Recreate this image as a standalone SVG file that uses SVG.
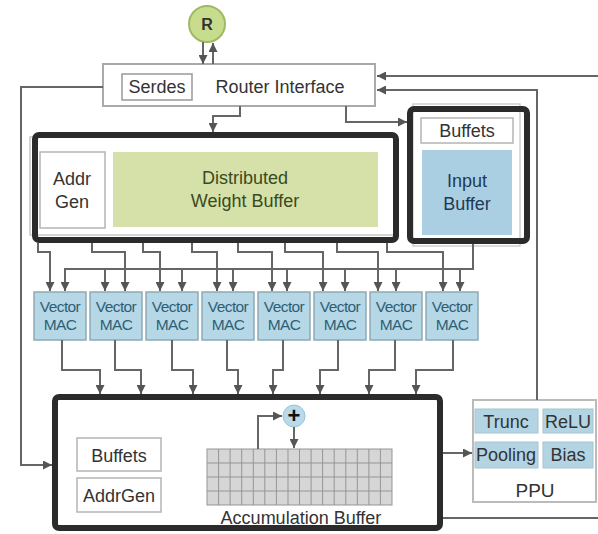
<svg xmlns="http://www.w3.org/2000/svg" width="598" height="534" viewBox="0 0 598 534">
  <style>
    text { font-family: "Liberation Sans", Arial, sans-serif; fill: #333; text-anchor: middle; }
    .lbl { font-size: 18px; }
    .mac text { font-size: 15.5px; fill: #2d5f78; letter-spacing: -0.6px; }
    .frame { fill: none; stroke: #2b2b2b; stroke-width: 6; }
    .thin { fill: #fff; stroke: #b4b4b4; stroke-width: 1.5; }
    .macbox { fill: #b6d7e5; stroke: #8fa9b5; stroke-width: 1.5; }
    .ppucell { fill: #b3d4e3; stroke: #a7c4d0; stroke-width: 1; }
    .wire { fill: none; stroke: #666; stroke-width: 2; }
    .arr { marker-end: url(#ah); }
    .grid line { stroke: #959595; stroke-width: 1; }
  </style>
  <defs>
    <marker id="ah" viewBox="0 0 10 10" refX="10" refY="5" markerWidth="9" markerHeight="9" markerUnits="userSpaceOnUse" orient="auto">
      <path d="M0,0 L10,5 L0,10 z" fill="#555"/>
    </marker>
  </defs>
  <rect width="598" height="534" fill="#fff"/>

  <!-- router node -->
  <g id="router">
    <circle cx="207" cy="24" r="18" fill="#c8dc8e" stroke="#9fb964" stroke-width="2"/>
    <text x="207" y="30" style="font-size:16px;font-weight:bold;fill:#333">R</text>
  </g>

  <!-- router interface -->
  <g id="router-interface">
    <rect x="103" y="64" width="272" height="42" fill="#fff" stroke="#aaa" stroke-width="2"/>
    <rect x="122" y="74" width="70" height="26" fill="#fff" stroke="#999" stroke-width="1.5"/>
    <text class="lbl" x="157" y="93">Serdes</text>
    <text class="lbl" x="280" y="93">Router Interface</text>
  </g>

  <!-- weight buffer block -->
  <g id="weight-buffer">
    <rect x="30" y="137" width="364" height="98" fill="none" stroke="#c8c8c8" stroke-width="1.5"/>
    <rect class="frame" x="35" y="135" width="361" height="105" rx="4"/>
    <rect class="thin" x="40" y="152" width="65" height="76"/>
    <text class="lbl" x="72" y="185">Addr</text>
    <text class="lbl" x="72" y="208">Gen</text>
    <rect x="113" y="152" width="265" height="75" fill="#d5e1a8"/>
    <text class="lbl" x="245" y="184" style="fill:#3a4a22">Distributed</text>
    <text class="lbl" x="245" y="207" style="fill:#3a4a22">Weight Buffer</text>
  </g>

  <!-- input buffer block -->
  <g id="input-buffer">
    <rect x="413" y="104" width="107" height="142" fill="none" stroke="#cfcfcf" stroke-width="1.5"/>
    <rect class="frame" x="410" y="109" width="117" height="132" rx="4"/>
    <rect class="thin" x="421" y="118" width="92" height="25"/>
    <text class="lbl" x="467" y="137">Buffets</text>
    <rect x="422" y="150" width="90" height="85" fill="#abcfe2"/>
    <text class="lbl" x="467" y="187" style="fill:#1f3a55">Input</text>
    <text class="lbl" x="467" y="210" style="fill:#1f3a55">Buffer</text>
  </g>

  <!-- vector MAC array -->
  <g id="mac0" class="mac"><rect class="macbox" x="34" y="292" width="52" height="48"/><text x="60" y="312">Vector</text><text x="60" y="330">MAC</text></g>
  <g id="mac1" class="mac"><rect class="macbox" x="90" y="292" width="52" height="48"/><text x="116" y="312">Vector</text><text x="116" y="330">MAC</text></g>
  <g id="mac2" class="mac"><rect class="macbox" x="146" y="292" width="52" height="48"/><text x="172" y="312">Vector</text><text x="172" y="330">MAC</text></g>
  <g id="mac3" class="mac"><rect class="macbox" x="202" y="292" width="52" height="48"/><text x="228" y="312">Vector</text><text x="228" y="330">MAC</text></g>
  <g id="mac4" class="mac"><rect class="macbox" x="258" y="292" width="52" height="48"/><text x="284" y="312">Vector</text><text x="284" y="330">MAC</text></g>
  <g id="mac5" class="mac"><rect class="macbox" x="314" y="292" width="52" height="48"/><text x="340" y="312">Vector</text><text x="340" y="330">MAC</text></g>
  <g id="mac6" class="mac"><rect class="macbox" x="370" y="292" width="52" height="48"/><text x="396" y="312">Vector</text><text x="396" y="330">MAC</text></g>
  <g id="mac7" class="mac"><rect class="macbox" x="426" y="292" width="52" height="48"/><text x="452" y="312">Vector</text><text x="452" y="330">MAC</text></g>

  <!-- accumulation buffer block -->
  <g id="accumulation-buffer">
    <rect class="frame" x="55" y="397" width="385" height="131" rx="4"/>
    <rect class="thin" x="77" y="438" width="84" height="33"/>
    <text class="lbl" x="119" y="462">Buffets</text>
    <rect class="thin" x="77" y="478" width="84" height="34"/>
    <text class="lbl" x="119" y="502">AddrGen</text>
    <g class="grid">
      <rect x="207" y="449" width="185" height="56" fill="#d6d6d6" stroke="#959595" stroke-width="1"/>
      <line x1="207" y1="463" x2="392" y2="463"/>
      <line x1="207" y1="477" x2="392" y2="477"/>
      <line x1="207" y1="491" x2="392" y2="491"/>
      <line x1="218.6" y1="449" x2="218.6" y2="505"/>
      <line x1="230.1" y1="449" x2="230.1" y2="505"/>
      <line x1="241.7" y1="449" x2="241.7" y2="505"/>
      <line x1="253.3" y1="449" x2="253.3" y2="505"/>
      <line x1="264.8" y1="449" x2="264.8" y2="505"/>
      <line x1="276.4" y1="449" x2="276.4" y2="505"/>
      <line x1="288" y1="449" x2="288" y2="505"/>
      <line x1="299.5" y1="449" x2="299.5" y2="505"/>
      <line x1="311.1" y1="449" x2="311.1" y2="505"/>
      <line x1="322.6" y1="449" x2="322.6" y2="505"/>
      <line x1="334.2" y1="449" x2="334.2" y2="505"/>
      <line x1="345.8" y1="449" x2="345.8" y2="505"/>
      <line x1="357.3" y1="449" x2="357.3" y2="505"/>
      <line x1="368.9" y1="449" x2="368.9" y2="505"/>
      <line x1="380.4" y1="449" x2="380.4" y2="505"/>
    </g>
    <circle cx="294" cy="416" r="11" fill="#b9dbe9" stroke="#9cc3d3" stroke-width="1"/>
    <text x="294" y="423" style="font-size:22px;font-weight:bold;fill:#111">+</text>
    <text class="lbl" x="301" y="524">Accumulation Buffer</text>
  </g>

  <!-- post-processing unit -->
  <g id="ppu">
    <rect x="473" y="400" width="123" height="102" fill="#fff" stroke="#bbb" stroke-width="2"/>
    <rect class="ppucell" x="475" y="409" width="63" height="24"/>
    <text class="lbl" x="506" y="428">Trunc</text>
    <rect class="ppucell" x="543" y="409" width="50" height="24"/>
    <text class="lbl" x="568" y="428">ReLU</text>
    <rect class="ppucell" x="475" y="442" width="63" height="26"/>
    <text class="lbl" x="506" y="461">Pooling</text>
    <rect class="ppucell" x="543" y="442" width="50" height="26"/>
    <text class="lbl" x="568" y="461">Bias</text>
    <text x="535" y="497" style="font-size:19px">PPU</text>
  </g>

  <!-- connectors -->
  <g id="connectors" class="wire">
    <path class="arr" d="M203,42 V64"/>
    <path class="arr" d="M213,64 V43"/>
    <path class="arr" d="M240,106 V116 H213 V132"/>
    <path class="arr" d="M346,106 V122 H407"/>
    <path class="arr" d="M598,76 H377"/>
    <path class="arr" d="M537,400 V90 H377"/>
    <path d="M443,518 H598"/>
    <path class="arr" d="M103,87 H21 V465 H52"/>

    <!-- weight buffer to MACs -->
    <path class="arr" d="M38,243 V252 H50 V291"/>
    <path class="arr" d="M92,243 V252 H125 V291"/>
    <path class="arr" d="M143,243 V252 H160 V291"/>
    <path class="arr" d="M192,243 V252 H217 V291"/>
    <path class="arr" d="M238,243 V252 H272 V291"/>
    <path class="arr" d="M285,243 V252 H323 V291"/>
    <path class="arr" d="M337,243 V252 H378 V291"/>
    <path class="arr" d="M387,243 V252 H443 V291"/>

    <!-- input buffer broadcast to MACs -->
    <path class="arr" d="M473,244 V269 H65 V291"/>
    <path class="arr" d="M105,269 V291"/>
    <path class="arr" d="M182,269 V291"/>
    <path class="arr" d="M233,269 V291"/>
    <path class="arr" d="M287,269 V291"/>
    <path class="arr" d="M345,269 V291"/>
    <path class="arr" d="M396,269 V291"/>
    <path class="arr" d="M460,269 V291"/>

    <!-- MACs to accumulation buffer -->
    <path class="arr" d="M62,340 V370 H100 V394"/>
    <path class="arr" d="M115,340 V370 H141 V394"/>
    <path class="arr" d="M172,340 V370 H193 V394"/>
    <path class="arr" d="M227,340 V370 H238 V394"/>
    <path class="arr" d="M283,340 V370 H273 V394"/>
    <path class="arr" d="M338,340 V370 H320 V394"/>
    <path class="arr" d="M395,340 V370 H369 V394"/>
    <path class="arr" d="M453,340 V370 H416 V394"/>

    <!-- accumulate loop -->
    <path class="arr" d="M258,449 V416 H282"/>
    <path class="arr" d="M294,427 V448"/>

    <!-- accumulation buffer to PPU -->
    <path class="arr" d="M443,453 H472"/>
  </g>
</svg>
